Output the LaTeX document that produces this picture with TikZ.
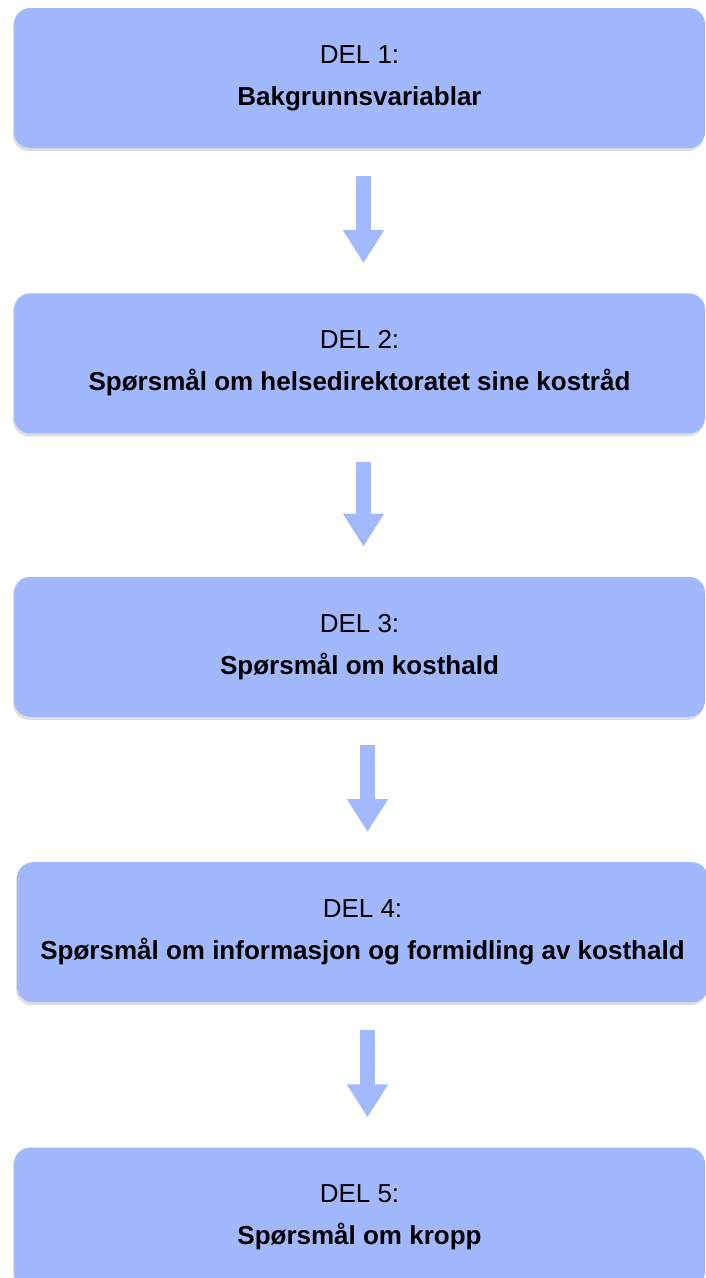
\documentclass[tikz,border=0pt]{standalone}
\usepackage{fontspec}
\setmainfont{Liberation Sans}
\usepackage{tikz}
\usetikzlibrary{arrows.meta,positioning,shadows}
\definecolor{boxfill}{HTML}{A1B8FF}
\definecolor{arrowfill}{HTML}{A3B9FF}

\begin{document}
\begin{tikzpicture}[x=1pt, y=-1pt,
  delbox/.style={fill=boxfill, rounded corners=16pt, minimum width=691pt, minimum height=140pt, align=center, font=\fontsize{26}{42}\selectfont,
    drop shadow={shadow xshift=-1pt, shadow yshift=-3pt, fill=black, opacity=0.13}},
  flow/.style={draw=arrowfill, line width=15pt, -{Triangle[length=33pt, width=39pt]}, shorten <=28pt, shorten >=30pt},
]
  \useasboundingbox (0,0) rectangle (706,1278);
  \begin{scope}
  \clip (0,0) rectangle (706,1278);
  \node[delbox] (del1) at (359.5,78) {DEL 1:\\\textbf{Bakgrunnsvariablar}};
  \node[delbox, below=145pt of del1] (del2) {DEL 2:\\\textbf{Spørsmål om helsedirektoratet sine kostråd}};
  \node[delbox, below=143pt of del2] (del3) {DEL 3:\\\textbf{Spørsmål om kosthald}};
  \node[delbox, below=145pt of del3, xshift=3pt] (del4) {DEL 4:\\\textbf{Spørsmål om informasjon og formidling av kosthald}};
  \node[delbox, below=145pt of del4, xshift=-3pt] (del5) {DEL 5:\\\textbf{Spørsmål om kropp}};

  \draw[flow] ([xshift=4pt]del1.south) -- ([xshift=4pt]del2.north);
  \draw[flow] ([xshift=4pt]del2.south) -- ([xshift=4pt]del3.north);
  \draw[flow] ([xshift=8pt]del3.south) -- ([xshift=5pt]del4.north);
  \draw[flow] ([xshift=5pt]del4.south) -- ([xshift=8pt]del5.north);
  \end{scope}
\end{tikzpicture}
\end{document}
